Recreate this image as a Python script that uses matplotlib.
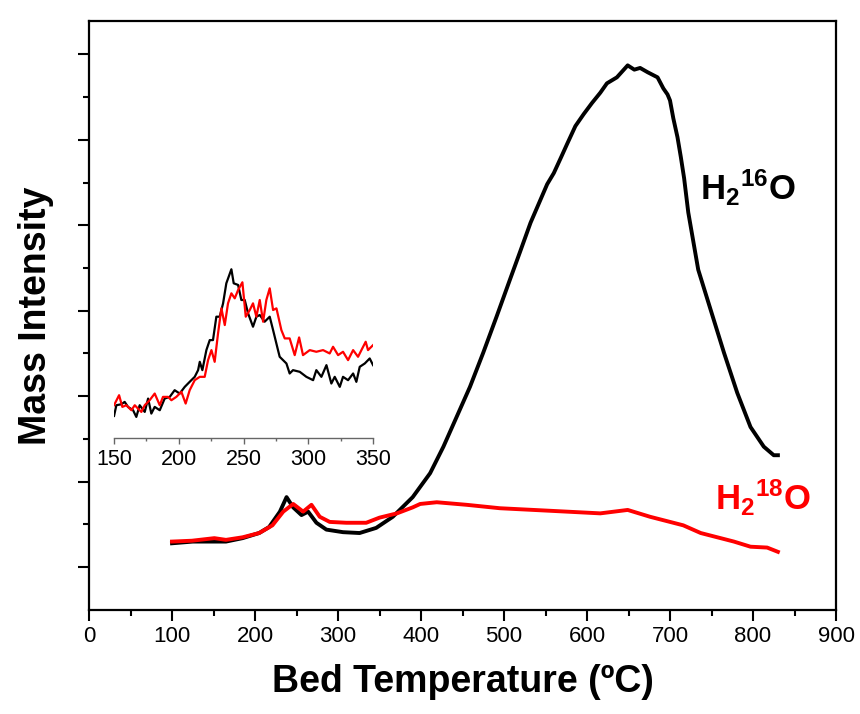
import numpy as np
import matplotlib
matplotlib.use("Agg")
import matplotlib.pyplot as plt
from matplotlib.ticker import MultipleLocator, FixedLocator, NullFormatter

plt.rcParams['font.family'] = ['Liberation Sans', 'DejaVu Sans']
plt.rcParams['mathtext.fontset'] = 'custom'
plt.rcParams['mathtext.rm'] = 'Liberation Sans'
plt.rcParams['mathtext.bf'] = 'Liberation Sans:bold'

# main panel, bed temperature (C) vs mass intensity (a.u.)
t16 = [100, 125, 145, 165, 185, 205, 217, 230, 238, 246, 256, 264, 274, 286, 306, 326,
       346, 366, 390, 411, 427, 443, 459, 475, 491, 507, 519, 532, 544, 552, 560, 569,
       576, 586, 596, 606, 616, 624, 636, 649, 657, 664, 673, 685, 692, 697, 700, 704,
       709, 713, 717, 722, 734, 749, 765, 781, 797, 813, 825, 830]
h2o16 = [0.78, 0.80, 0.80, 0.80, 0.84, 0.90, 0.97, 1.15, 1.32, 1.20, 1.11, 1.15, 1.02, 0.94,
         0.91, 0.90, 0.96, 1.09, 1.32, 1.60, 1.91, 2.26, 2.61, 3.01, 3.43, 3.86, 4.18, 4.53,
         4.80, 4.98, 5.11, 5.30, 5.45, 5.66, 5.80, 5.93, 6.05, 6.16, 6.23, 6.37, 6.32, 6.34,
         6.29, 6.23, 6.10, 6.03, 5.96, 5.75, 5.53, 5.30, 5.05, 4.65, 3.98, 3.51, 3.01, 2.54,
         2.14, 1.91, 1.81, 1.81]

t18 = [100, 124, 151, 165, 185, 205, 221, 234, 246, 258, 268, 278, 290, 310, 334, 350,
       371, 390, 399, 419, 455, 495, 556, 616, 649, 676, 716, 737, 777, 797, 817, 830]
h2o18 = [0.80, 0.81, 0.84, 0.82, 0.85, 0.90, 0.99, 1.15, 1.24, 1.15, 1.23, 1.09, 1.03, 1.02,
         1.02, 1.08, 1.13, 1.20, 1.24, 1.26, 1.23, 1.19, 1.16, 1.13, 1.17, 1.09, 0.99, 0.90,
         0.80, 0.74, 0.73, 0.68]

# inset, 150-350 C
ti16 = [150, 151.8, 155.7, 158.2, 160.8, 164.7, 167.2, 169.8, 173.7, 176.3, 178.8, 181.4,
        185.3, 189.1, 193.0, 196.8, 200.7, 204.6, 208.4, 212.3, 214.9, 216.2, 218.2, 221.3,
        223.9, 226.4, 229.0, 231.6, 234.2, 236.7, 240.6, 242.4, 245.8, 248.3, 250.9, 253.5,
        257.3, 259.9, 262.5, 266.3, 270.2, 272.8, 276.6, 277.9, 280.5, 283.1, 285.6, 288.2,
        293.4, 298.5, 303.7, 306.2, 310.1, 314.0, 317.8, 320.4, 324.3, 326.8, 330.7, 334.6,
        337.1, 339.7, 343.6, 347.4, 350.0]
hi16 = [0.3, 3.5, 3.8, 4.5, 3.0, 2.0, 0.0, 3.5, 1.5, 5.5, 1.0, 3.0, 2.0, 5.5, 6.0, 8.0, 7.0,
        9.0, 10.5, 12.0, 14.0, 16.5, 14.0, 20.0, 23.0, 23.0, 30.0, 30.0, 34.0, 40.0, 44.2,
        40.0, 39.5, 35.0, 35.0, 31.0, 27.0, 30.0, 30.5, 28.5, 30.0, 26.0, 20.0, 18.0, 17.0,
        16.0, 13.0, 14.0, 13.5, 12.0, 11.0, 14.0, 12.0, 15.5, 10.0, 12.0, 9.0, 12.0, 11.0,
        13.0, 10.5, 15.0, 16.0, 17.5, 15.5]

ti18 = [150.0, 153.9, 156.4, 159.5, 163.4, 166.0, 168.5, 171.1, 173.7, 177.5, 181.4, 185.3,
        187.8, 191.7, 194.3, 198.1, 202.0, 205.3, 208.4, 212.3, 216.2, 220.0, 222.6, 225.2,
        227.7, 230.3, 232.9, 235.5, 238.0, 240.6, 243.2, 245.8, 249.1, 251.7, 254.8, 257.3,
        259.9, 262.5, 265.1, 267.6, 270.2, 272.8, 275.4, 279.2, 281.8, 285.6, 289.5, 292.9,
        295.9, 301.1, 306.2, 311.4, 316.5, 319.1, 323.0, 326.8, 330.7, 334.6, 338.4, 341.0,
        344.3, 346.1, 350.0]
hi18 = [3.5, 6.5, 3.0, 3.5, 2.0, 3.5, 2.5, 1.5, 3.5, 5.0, 7.0, 3.5, 6.0, 6.0, 5.0, 6.0, 7.5,
        4.0, 8.0, 11.0, 12.0, 12.0, 17.0, 20.0, 16.5, 25.0, 32.5, 27.5, 34.0, 37.0, 35.5,
        38.0, 40.3, 30.0, 32.0, 34.0, 30.0, 35.0, 28.5, 35.0, 38.5, 32.0, 32.5, 26.0, 23.5,
        23.5, 18.5, 23.8, 18.5, 20.0, 19.5, 20.0, 19.0, 21.0, 18.5, 19.5, 17.0, 20.0, 18.0,
        20.0, 22.5, 20.0, 21.5]

fig = plt.figure(figsize=(8.6, 7.14), dpi=100)
ax = fig.add_axes([0.1035, 0.1457, 0.8686, 0.825])

ax.plot(t16, h2o16, color='black', lw=2.8, solid_joinstyle='round')
ax.plot(t18, h2o18, color='red', lw=2.8, solid_joinstyle='round')

ax.set_xlim(0, 900)
ax.set_ylim(0, 6.89)
ax.xaxis.set_major_locator(MultipleLocator(100))
ax.xaxis.set_minor_locator(MultipleLocator(50))
ax.yaxis.set_major_locator(FixedLocator([0.5, 1.5, 2.5, 3.5, 4.5, 5.5, 6.5]))
ax.yaxis.set_minor_locator(FixedLocator([1, 2, 3, 4, 5, 6]))
ax.yaxis.set_major_formatter(NullFormatter())
ax.tick_params(which='major', direction='out', length=8, width=1.5, labelsize=16)
ax.tick_params(which='minor', direction='out', length=4.5, width=1.5)
for s in ax.spines.values():
    s.set_linewidth(1.6)

ax.set_xlabel('Bed Temperature (ºC)', fontsize=27, fontweight='bold', labelpad=12)
ax.set_ylabel('Mass Intensity', fontsize=27, fontweight='bold', labelpad=14)

ax.text(736, 4.8, r'$\mathbf{H_2{}^{16}O}$', fontsize=25, color='black',
        ha='left', va='baseline')
ax.text(754, 1.17, r'$\mathbf{H_2{}^{18}O}$', fontsize=25, color='red',
        ha='left', va='baseline')

# inset
ins = fig.add_axes([0.1326, 0.3866, 0.3012, 0.2447])
ins.plot(ti16, hi16, color='black', lw=1.6)
ins.plot(ti18, hi18, color='red', lw=1.6)
ins.set_xlim(150, 350)
ins.set_ylim(-6.3, 46)
ins.patch.set_alpha(0)
for k in ['top', 'right', 'left']:
    ins.spines[k].set_visible(False)
ins.spines['bottom'].set_color('#666666')
ins.spines['bottom'].set_linewidth(1.0)
ins.set_yticks([])
ins.xaxis.set_major_locator(MultipleLocator(50))
ins.xaxis.set_minor_locator(MultipleLocator(25))
ins.tick_params(which='major', direction='out', length=4, width=1, color='#666666',
                labelsize=15.5, pad=4)
ins.tick_params(which='minor', direction='out', length=2.5, width=1, color='#666666')

fig.savefig('out.png', dpi=100)
